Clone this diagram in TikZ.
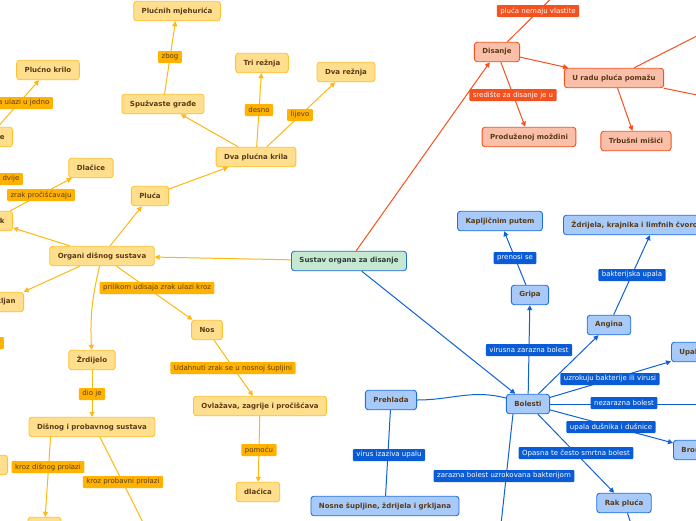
\documentclass[tikz,border=0pt]{standalone}
\usepackage{fontspec}
\setmainfont{DejaVu Sans}
\usetikzlibrary{arrows.meta}
\definecolor{yfill}{HTML}{FFDF8E}
\definecolor{yborder}{HTML}{FFC12E}
\definecolor{yedge}{HTML}{FFB810}
\definecolor{ylabfill}{HTML}{FFB300}
\definecolor{ntext}{HTML}{5A3A16}
\definecolor{rfill}{HTML}{F9BFA9}
\definecolor{redge}{HTML}{F4511E}
\definecolor{bfill}{HTML}{A8CAF9}
\definecolor{bborder}{HTML}{1E6FE0}
\definecolor{bedge}{HTML}{0F62D6}
\definecolor{blabfill}{HTML}{0A5CD6}
\definecolor{gfill}{HTML}{C6E7D0}
\definecolor{gtext}{HTML}{2E3B3B}
\begin{document}
\begin{tikzpicture}[x=1pt,y=-1pt,
  box/.style={draw, rounded corners=3pt, line width=0.9pt, inner xsep=8pt, inner ysep=0pt,
    minimum height=19.5pt, font=\bfseries\fontsize{7}{8}\selectfont, text=ntext},
  ynode/.style={box, fill=yfill, draw=yborder},
  rnode/.style={box, fill=rfill, draw=redge},
  bnode/.style={box, fill=bfill, draw=bborder},
  gnode/.style={box, fill=gfill, draw=bborder, text=gtext},
  lab/.style={rounded corners=1pt, inner xsep=3.5pt, inner ysep=0pt, minimum height=12pt,
    font=\fontsize{7}{8}\selectfont},
  ylab/.style={lab, fill=ylabfill, text=ntext},
  rlab/.style={lab, fill=redge, text=white},
  blab/.style={lab, fill=blabfill, text=white},
  con/.style={line width=1pt, -{Triangle[width=5pt,length=5pt]}},
  ycon/.style={con, draw=yedge},
  rcon/.style={con, draw=redge},
  bcon/.style={con, draw=bedge}]
\useasboundingbox (0,0) rectangle (696,520);
\clip (0,0) rectangle (696,520);
\fill[white] (0,0) rectangle (696,520);

% ---------- nodes ----------
\node[gnode] (sus) at (349,261) {Sustav organa za disanje};

% yellow branch
\node[ynode] (pmj) at (177,11) {Plućnih mjehurića};
\node[ynode] (pkr) at (48,70) {Plućno krilo};
\node[ynode, anchor=east] (dsc) at (13,137) {Dušnice};
\node[ynode] (spz) at (163,104) {Spužvaste građe};
\node[ynode] (tri) at (262,63) {Tri režnja};
\node[ynode] (dvr) at (346,72) {Dva režnja};
\node[ynode] (dpk) at (256,157) {Dva plućna krila};
\node[ynode] (dla) at (91,168) {Dlačice};
\node[ynode] (plu) at (150,196) {Pluća};
\node[ynode, anchor=east] (dsk) at (13,221) {Dušnik};
\node[ynode] (org) at (102,256) {Organi dišnog sustava};
\node[ynode, anchor=east] (grk) at (24,302) {Grkljan};
\node[ynode] (nos) at (207,330) {Nos};
\node[ynode] (zrd) at (92,360) {Žrdijelo};
\node[ynode] (dip) at (92,427) {Dišnog i probavnog sustava};
\node[ynode, anchor=east, minimum width=40pt] (lft) at (8,465) {};
\node[ynode, minimum width=33pt] (bot) at (44.5,527) {};
\node[ynode] (ovl) at (260,406) {Ovlažava, zagrije i pročišćava};
\node[ynode] (dlc) at (258,492) {dlaćica};

% red branch
\node[rnode] (dis) at (497,52) {Disanje};
\node[rnode] (urp) at (614,78) {U radu pluća pomažu};
\node[rnode] (pm) at (529,137) {Produženoj moždini};
\node[rnode] (trb) at (636,141) {Trbušni mišići};

% blue branch
\node[bnode] (kap) at (500,221) {Kapljičnim putem};
\node[bnode, anchor=west] (zdr) at (563,225) {Ždrijela, krajnika i limfnih čvorova};
\node[bnode] (gri) at (530,295) {Gripa};
\node[bnode] (ang) at (609,325) {Angina};
\node[bnode, anchor=west] (upa) at (671,352) {Upala pluća};
\node[bnode] (bol) at (528,404) {Bolesti};
\node[bnode, anchor=west] (bro) at (673,450) {Bronhitis};
\node[bnode] (rak) at (624,503) {Rak pluća};
\node[bnode] (pre) at (391,400) {Prehlada};
\node[bnode] (nsz) at (385,506) {Nosne šupljine, ždrijela i grkljana};

% off-screen ends
\coordinate (c1) at (575,-25);
\coordinate (c2) at (760,4);
\coordinate (c3) at (780,112);
\coordinate (c4) at (790,404);
\coordinate (c5) at (495,580);
\coordinate (c6) at (650,580);
\coordinate (c7) at (162,560);

% ---------- connectors ----------
\draw[ycon] (sus) -- (org);
\draw[ycon] (org) -- (plu);
\draw[ycon] (plu) -- (dpk);
\draw[ycon] (dpk) -- (spz);
\draw[ycon] (spz) -- (pmj);
\draw[ycon] (dpk) -- (tri);
\draw[ycon] (dpk) -- (dvr);
\draw[ycon] (org) -- (dsk);
\draw[ycon] (dsk) -- (dla);
\draw[ycon] (dsk) -- (dsc);
\draw[ycon] (dsc) -- (pkr);
\draw[ycon] (org) -- (grk);
\draw[ycon] (org) to[bend right=8] (zrd);
\draw[ycon] (org) -- (nos);
\draw[ycon] (nos) -- (ovl);
\draw[ycon] (ovl) -- (dlc);
\draw[ycon] (zrd) -- (dip);
\draw[ycon] ([xshift=22pt]dip.south west) -- (bot);
\draw[ycon] ([xshift=8pt]dip.south) -- (c7);

\draw[rcon] (sus) -- (dis);
\draw[rcon, -] (dis) -- (c1);
\draw[rcon] (dis) -- (urp);
\draw[rcon] (dis) -- (pm);
\draw[rcon] (urp) -- (trb);
\draw[rcon, -] (urp) -- (c2);
\draw[rcon, -] (urp) -- (c3);

\draw[bcon] (sus) -- (bol);
\draw[bcon] (bol) -- (gri);
\draw[bcon] (gri) -- (kap);
\draw[bcon] (bol) -- (ang);
\draw[bcon] (ang) -- ([xshift=-5pt]zdr.south -| 655,0);
\draw[bcon] (bol) -- (upa);
\draw[bcon, -] (bol) -- (c4);
\draw[bcon] (bol) -- (bro);
\draw[bcon] (bol) -- (rak);
\draw[bcon, -] ([xshift=7pt]bol.south west) -- (c5);
\draw[bcon, -] (rak) -- (c6);
\draw[bcon, -] (bol.165) to[out=165,in=0] (pre.east);
\draw[bcon, -] (pre) -- (nsz);

% ---------- labels ----------
\node[ylab] (l1) at (170,57) {zbog};
\node[ylab] (l2) at (259,110) {desno};
\node[ylab] (l3) at (300,115) {lijevo};
\node[ylab] (l4) at (41,195) {zrak pročišćavaju};
\node[ylab, anchor=east] (l5) at (23,179) {dijeli se na dvije};
\node[ylab, anchor=east] (l6) at (53,103) {svaka ulazi u jedno};
\node[ylab, anchor=east, minimum width=20pt] (l7) at (4,343) {};
\node[ylab] (l8) at (157,288) {prilikom udisaja zrak ulazi kroz};
\node[ylab] (l9) at (233,368) {Udahnuti zrak se u nosnoj šupljini};
\node[ylab] (l10) at (259,450) {pomoću};
\node[ylab] (l11) at (92,394) {dio je};
\node[ylab] (l12) at (48,467) {kroz dišnog prolazi};
\node[ylab] (l13) at (123,482) {kroz probavni prolazi};

\node[rlab] (r1) at (538,11) {pluća nemaju vlastite};
\node[rlab] (r2) at (513,95) {središte za disanje je u};

\node[blab] (b1) at (515,258) {prenosi se};
\node[blab] (b2) at (632,275) {bakterijska upala};
\node[blab] (b3) at (529,350) {virusna zarazna bolest};
\node[blab] (b4) at (610,379) {uzrokuju bakterije ili virusi};
\node[blab] (b5) at (624,403) {nezarazna bolest};
\node[blab] (b6) at (611,427) {upala dušnika i dušnice};
\node[blab] (b7) at (576,453) {Opasna te često smrtna bolest};
\node[blab] (b8) at (504,476) {zarazna bolest uzrokovana bakterijom};
\node[blab] (b9) at (389,455) {virus izaziva upalu};
\end{tikzpicture}
\end{document}
